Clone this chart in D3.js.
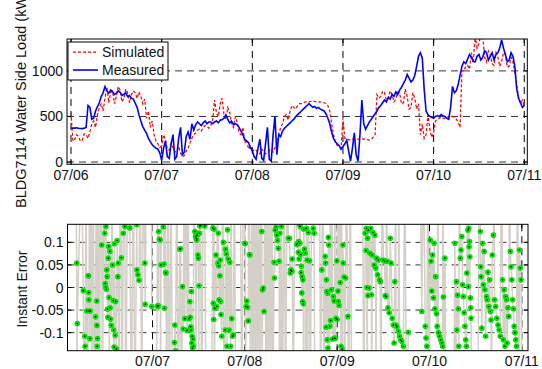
<!DOCTYPE html>
<html lang="en">
<head>
<meta charset="UTF-8">
<title>BLDG7114 water side load</title>
<script src="https://d3js.org/d3.v7.min.js"></script>
<style>
  body { margin: 0; background: #fff; }
  svg { display: block; font-family: "Liberation Sans", Arial, sans-serif; }
</style>
</head>
<body>
<div id="chart"></div>
<script>
const width = 542, height = 369;

// half-hourly samples (kW), starting 07/06 00:00
const sampleStepHours = 0.5;
const simulated = [
  540, 230, 250, 300, 280, 230, 240, 310, 300, 260, 330, 420, 450, 380, 520, 600, 640, 560, 700, 820, 650, 760, 780, 640,
  720, 830, 790, 660, 700, 800, 760, 650, 740, 780, 760, 700, 770, 720, 640, 690, 480, 560, 380, 450, 300, 230, 200, 160,
  180, 300, 250, 140, 130, 200, 160, 110, 120, 170, 100, 60, 70, 120, 150, 210, 260, 300, 320, 350, 360, 340, 380, 400,
  390, 370, 400, 460, 680, 540, 500, 640, 700, 520, 470, 600, 550, 420, 380, 500, 430, 320, 300, 380, 210, 250, 140, 180,
  110, 140, 130, 100, 90, 140, 120, 90, 100, 130, 140, 110, 160, 200, 300, 380, 420, 500, 520, 460, 560, 620, 600, 580,
  620, 640, 640, 650, 660, 660, 660, 665, 665, 665, 660, 660, 660, 655, 650, 645, 620, 560, 420, 300, 220, 180, 170, 150,
  480, 260, 250, 245, 240, 250, 250, 245, 250, 250, 250, 255, 250, 245, 240, 250, 270, 300, 740, 700, 720, 780, 760, 680,
  700, 780, 740, 660, 690, 770, 760, 640, 650, 800, 720, 580, 600, 760, 700, 580, 640, 300, 420, 260, 300, 520, 360, 270,
  320, 450, 470, 480, 490, 480, 480, 490, 500, 490, 500, 495, 470, 440, 380, 1000, 1000, 1050, 1060, 1020, 1200, 1100, 1380, 1250,
  1300, 1400, 1380, 1150, 1100, 1220, 1180, 1080, 1060, 1200, 1150, 1050, 1100, 1200, 1180, 1040, 1050, 1150, 1100, 980, 850, 700, 640, 680,
  610
];
const measured = [
  374, 372, 372, 376, 370, 368, 366, 372, 380, 620, 600, 470, 480, 560, 608, 650, 718, 760, 828, 780, 755, 790, 773, 740,
  755, 780, 766, 730, 744, 760, 718, 730, 700, 690, 645, 600, 517, 450, 389, 350, 315, 260, 224, 190, 169, 150, 143, 100,
  20, 150, 230, 60, 40, 200, 300, 30, 60, 260, 380, 80, 110, 280, 330, 250, 420, 350, 410, 440, 420, 400, 430, 450,
  420, 440, 440, 420, 440, 450, 430, 460, 465, 480, 515, 470, 430, 450, 410, 420, 410, 380, 340, 300, 250, 230, 215, 160,
  120, 60, 30, 150, 250, 40, 20, 200, 380, 30, 10, 300, 500, 80, 300, 280, 340, 370, 390, 410, 430, 450, 470, 500,
  520, 540, 560, 580, 600, 620, 640, 620, 600, 610, 590, 600, 580, 570, 560, 530, 480, 420, 330, 260, 220, 200, 180, 140,
  170, 200, 240, 120, 10, 150, 320, 80, 10, 300, 680, 420, 360, 400, 440, 470, 500, 530, 560, 600, 620, 650, 680, 660,
  710, 690, 740, 720, 770, 740, 790, 820, 860, 900, 960, 920, 880, 900, 950, 1050, 1160, 1200, 1140, 800, 560, 520, 500, 490,
  480, 500, 510, 500, 520, 505, 500, 480, 470, 600, 830, 760, 780, 850, 950, 1050, 1100, 1080, 1130, 1180, 1150, 1100, 1100, 1160,
  1180, 1120, 1150, 1220, 1200, 1120, 1160, 1200, 1120, 1180, 1200, 1250, 1340, 1250, 1180, 1100, 1120, 1200, 1160, 1050, 800, 700, 650, 600,
  620
];

const dayHours = [0, 24, 48, 72, 96, 120];
const dayLabels = ["07/06", "07/07", "07/08", "07/09", "07/10", "07/11"];
const loadTicks = [0, 500, 1000];
const errorTicks = [-0.1, -0.05, 0, 0.05, 0.1];
const errorTickLabels = ["-0.1", "-0.05", "0", "0.05", "0.1"];

// instant error: [hour, value]; null marks a gap in the record
const errorSeries = [
  [4.0,0.3],[4.3,0.054],[4.4,-0.3],[4.45,-0.08],[5.5,0.3],[6.0,-0.007],[6.2,-0.3],[6.4,-0.108],[6.5,-0.13],[6.7,0.3],
  [6.9,-0.052],[7.1,-0.3],[7.3,0.026],[7.35,0.026],[7.4,-0.011],[7.45,-0.027],[7.5,-0.052],[7.6,0.3],[7.7,-0.113],[7.8,-0.052],
  [8.0,0.3],[8.3,-0.3],[8.6,0.3],[8.9,-0.3],[9.2,-0.065],[9.4,0.3],[9.5,-0.03],[9.55,-0.084],[9.6,-0.13],[9.7,-0.113],
  [9.9,0.3],[10.2,-0.3],[10.5,0.3],[10.8,0.094],[11.0,-0.3],[11.3,0.3],[11.6,0.12],[11.7,0.009],[11.8,0.001],[11.9,0.135],
  [12.0,-0.004],[12.1,0.039],[12.2,0.024],[12.3,-0.048],[12.4,-0.066],[12.5,0.065],[12.6,0.091],[12.7,-0.022],[12.8,-0.3],[12.9,0.08],
  [13.0,-0.045],[13.1,-0.07],[13.3,-0.084],[13.45,0.3],[13.6,0.05],[13.8,-0.029],[13.9,-0.094],[14.0,-0.132],[14.1,0.097],[14.3,-0.106],
  [14.4,-0.031],[14.6,-0.136],[14.8,0.104],[15.0,0.024],[15.1,0.054],[15.3,-0.3],[15.6,0.3],[15.9,0.066],[16.1,-0.3],[16.4,0.12],
  [16.8,0.135],[17.1,-0.3],[17.5,0.3],[18.1,0.132],[18.5,-0.3],[19.0,0.3],[19.4,-0.3],[19.9,0.139],[19.95,0.039],[20.2,0.028],
  [20.5,0.016],[20.8,0.3],[21.2,-0.3],[21.6,0.3],[22.0,0.054],[22.1,-0.037],[22.4,0.3],[22.9,null],
  [23.7,0.3],[23.8,-0.042],[23.9,0.3],[24.4,null],
  [24.9,-0.3],[25.2,-0.041],[25.3,0.3],[25.4,-0.042],[25.5,-0.04],[25.6,0.124],[25.8,0.107],[26.0,0.105],[26.1,-0.3],[26.2,0.05],
  [26.5,0.3],[26.8,0.134],[27.0,0.052],[27.1,-0.046],[27.2,0.3],[27.4,0.033],[27.5,0.032],[27.7,-0.3],[28.0,0.3],[28.4,-0.3],
  [28.8,0.3],[29.2,-0.3],[29.7,-0.122],[29.8,-0.083],[30.0,-0.14],[30.3,0.3],[30.7,-0.3],
  [31.1,0.085],[31.3,0.086],[31.5,-0.3],[31.8,0.002],[32.0,-0.092],[32.2,0.3],[32.4,-0.069],[32.7,0.3],[33.0,-0.095],[33.2,0.3],
  [33.5,-0.069],[33.7,-0.031],[33.8,-0.066],[33.9,-0.087],[34.0,-0.094],[34.1,-0.009],[34.2,-0.123],[34.3,-0.108],[34.4,-0.134],[34.5,-0.114],
  [34.6,-0.13],[34.8,0.3],[35.0,0.124],[35.2,0.113],[35.3,-0.3],[35.4,0.109],[35.5,0.105],[35.6,0.116],[35.7,0.12],[35.8,0.072],
  [35.9,0.065],[36.0,-0.3],[36.1,0.004],[36.2,0.12],[36.3,0.136],[36.5,0.138],[36.8,-0.3],[37.2,0.3],[37.6,0.136],[37.9,-0.3],[38.2,null],
  [39.3,-0.3],[39.7,0.132],[39.8,-0.035],[39.9,-0.071],[40.0,0.129],[40.1,-0.3],[40.2,-0.046],[40.5,0.072],[40.7,-0.042],[40.9,0.3],
  [41.0,0.054],[41.1,0.12],[41.2,0.048],[41.3,-0.027],[41.5,0.026],[41.6,0.061],[41.7,-0.031],[41.8,-0.06],[42.0,-0.108],[42.2,0.3],
  [42.4,0.1],[42.6,-0.3],[42.9,-0.094],[43.0,0.085],[43.2,0.074],[43.4,-0.13],[43.5,0.128],[43.7,0.063],[43.9,-0.094],[44.1,0.056],
  [44.3,-0.13],[44.4,0.3],[44.6,-0.069],[44.8,-0.108],[45.0,-0.105],[45.3,0.3],[45.6,-0.3],[46.0,null],
  [46.8,0.3],[47.2,-0.3],[47.6,0.3],[48.0,0.098],[48.1,0.097],[48.2,-0.3],[48.3,-0.042],[48.5,-0.03],[48.7,-0.044],[48.9,-0.074],
  [49.0,0.3],[49.2,0.073],[49.3,0.072],[49.5,-0.3],[49.8,0.3],[50.1,-0.3],[50.4,0.3],[50.7,-0.3],[51.0,0.3],[51.3,-0.3],
  [51.6,0.3],[51.9,-0.3],[52.2,0.3],[52.4,0.124],[52.5,-0.3],[52.6,-0.005],[52.8,-0.001],[53.0,-0.053],[53.2,0.3],[53.5,-0.3],
  [53.8,0.3],[54.1,-0.3],[54.4,0.3],[54.7,-0.3],[55.0,0.3],[55.3,-0.3],[55.6,0.056],[55.7,0.021],[55.9,0.127],[56.1,0.134],
  [56.3,0.116],[56.5,0.104],[56.7,0.087],[56.9,0.058],[57.0,-0.3],[57.1,0.12],[57.3,-0.3],[57.5,0.135],[57.8,-0.3],[58.2,0.3],
  [58.6,-0.3],[59.0,0.3],[59.3,0.109],[59.6,0.109],[59.8,0.032],[59.9,0.038],[60.0,0.039],[60.2,0.036],[60.3,0.063],[60.6,-0.3],
  [61.0,0.3],[61.5,0.095],[61.7,0.098],[61.9,0.078],[62.0,0.102],[62.1,0.063],[62.2,0.139],[62.3,0.098],[62.4,0.135],[62.5,0.073],
  [62.6,0.033],[62.7,0.047],[62.8,-0.012],[62.9,0.024],[63.0,-0.031],[63.1,0.017],[63.2,-0.036],[63.25,-0.3],[63.3,0.129],[63.5,0.085],
  [63.7,0.076],[63.8,-0.3],[64.0,0.131],[64.2,0.061],[64.3,-0.3],[64.5,0.122],[64.8,0.059],[65.0,-0.3],[65.4,0.3],[65.8,0.131],
  [66.0,0.12],[66.2,-0.3],[66.6,null],
  [67.4,0.3],[67.7,-0.3],[68.0,0.039],[68.3,0.3],[68.6,-0.3],[68.9,0.069],[69.0,0.054],[69.1,-0.088],[69.2,0.017],[69.3,-0.009],
  [69.4,-0.116],[69.5,-0.013],[69.6,-0.134],[69.7,0.111],[69.8,0.094],[69.9,-0.3],[70.1,-0.086],[70.2,0.3],[70.3,-0.073],[70.5,-0.005],
  [70.6,0.3],[70.8,-0.114],[71.0,-0.02],[71.2,-0.03],[71.3,-0.112],[71.4,0.3],[71.5,-0.113],[71.7,-0.068],[71.9,0.059],[72.0,-0.071],
  [72.1,0.3],[72.2,-0.008],[72.3,-0.031],[72.5,-0.04],[72.6,0.3],[72.8,0.011],[73.0,-0.13],[73.1,0.3],[73.3,-0.136],[73.5,0.094],
  [73.6,0.054],[73.8,0.023],[73.9,-0.3],[74.2,0.021],[74.4,0.3],[74.8,-0.064],[75.0,-0.3],[75.4,0.3],[75.8,-0.3],[76.2,null],
  [78.6,0.3],[78.9,-0.3],[79.3,0.12],[79.5,0.082],[79.6,0.131],[79.7,0],[79.8,-0.3],[79.9,0.109],[80.0,-0.018],[80.1,0.127],
  [80.3,-0.001],[80.5,0.076],[80.7,0.131],[80.9,-0.016],[81.0,-0.3],[81.1,0.072],[81.3,0.122],[81.6,0.05],[81.8,0.116],[82.0,0.043],
  [82.1,-0.3],[82.2,0.065],[82.5,0.028],[82.7,0.061],[83.0,0.017],[83.2,0.013],[83.4,-0.3],[83.7,0.3],[84.0,0.061],[84.3,0.058],
  [84.5,-0.018],[84.7,-0.02],[84.8,0.3],[85.0,0.058],[85.2,-0.045],[85.5,-0.056],[85.8,0.109],[86.0,0.054],[86.3,-0.068],[86.6,-0.083],
  [86.8,-0.123],[87.0,0.013],[87.2,0.3],[87.3,-0.083],[87.5,-0.087],[87.9,-0.097],[88.0,0.3],[88.2,-0.108],[88.5,-0.116],[88.8,-0.119],
  [89.2,-0.13],[89.6,0.3],[90.0,-0.3],[90.5,-0.099],[90.8,null],
  [93.5,0.3],[94.0,-0.053],[94.4,0.3],[94.9,-0.086],[95.1,-0.112],[95.3,-0.13],[95.6,0.3],[95.9,-0.3],[96.2,0.105],[96.4,0.058],
  [96.6,-0.008],[96.8,0.072],[97.0,-0.023],[97.2,0.098],[97.4,-0.047],[97.6,0.024],[97.8,-0.058],[98.0,-0.086],[98.2,0.3],[98.3,-0.1],
  [98.6,-0.108],[98.9,-0.116],[99.2,-0.123],[99.4,-0.13],[99.5,0.3],[99.6,-0.021],[99.8,-0.3],[100.0,0.065],[100.3,-0.3],[100.7,null],
  [102.3,-0.3],[102.6,0.098],[102.8,-0.3],[103.0,0.013],[103.1,-0.094],[103.3,-0.017],[103.5,-0.047],[103.6,-0.13],[103.8,0.3],[104.0,0.065],
  [104.2,0.083],[104.4,0.113],[104.6,0.006],[104.8,-0.02],[105.0,-0.056],[105.2,-0.086],[105.4,-0.116],[105.6,-0.13],[105.7,0.032],[105.9,0.3],
  [106.0,0.127],[106.1,0.002],[106.2,0.131],[106.3,0.09],[106.4,0.102],[106.5,0.068],[106.6,-0.023],[106.7,-0.045],[106.8,-0.068],[107.0,-0.3],[107.4,null],
  [108.6,-0.3],[108.9,0.3],[109.2,0.124],[109.3,0.046],[109.4,0.024],[109.6,-0.09],[109.8,0.098],[110.0,0.006],[110.2,0.08],[110.4,-0.005],
  [110.6,-0.108],[110.8,-0.02],[111.0,-0.027],[111.2,0.034],[111.4,-0.042],[111.6,0.017],[111.8,-0.053],[112.0,-0.072],[112.1,-0.3],[112.3,0.072],
  [112.6,0.116],[112.8,0.3],[112.9,-0.027],[113.2,-0.042],[113.5,-0.068],[113.8,-0.083],[114.1,-0.094],[114.4,-0.108],[114.7,0.3],[115.0,0.017],
  [115.2,-0.116],[115.4,-0.005],[115.6,-0.13],[115.8,-0.02],[116.0,-0.027],[116.2,-0.123],[116.4,-0.045],[116.6,-0.064],[116.8,0.3],[117.0,0.08],
  [117.2,0.046],[117.4,0.017],[117.6,-0.027],[117.8,-0.047],[118.0,-0.086],[118.2,-0.1],[118.4,-0.116],[118.6,-0.13],[118.9,0.3],[119.2,-0.3],
  [119.4,0.083],[119.6,0.043],[119.8,0.017],[120.0,-0.3]
];

const svg = d3.select("#chart").append("svg")
    .attr("width", width)
    .attr("height", height);

svg.append("rect").attr("width", width).attr("height", height).attr("fill", "#fff");

// axes boxes, in page pixels
const boxTop = { x0: 67, x1: 527.3, y0: 39, y1: 164.3 };
const boxBot = { x0: 67.5, x1: 528, y0: 224.3, y1: 350.7 };

const xTop = d3.scaleLinear().domain([-1.06, 120.8]).range([boxTop.x0, boxTop.x1]);
const yTop = d3.scaleLinear().domain([-25, 1350]).range([boxTop.y1, boxTop.y0]);
const xBot = d3.scaleLinear().domain([1.9, 121.6]).range([boxBot.x0, boxBot.x1]);
const yBot = d3.scaleLinear().domain([-0.14, 0.14]).range([boxBot.y1, boxBot.y0]);

const defs = svg.append("defs");
function clipFor(id, box) {
    defs.append("clipPath").attr("id", id)
        .append("rect")
        .attr("x", box.x0).attr("y", box.y0)
        .attr("width", box.x1 - box.x0).attr("height", box.y1 - box.y0);
    return `url(#${id})`;
}

// grid + ticks + labels for one axes
function drawAxes(box, x, y, xTicks, xLabels, yTicks, yLabels) {
    const g = svg.append("g");
    const grid = g.append("g")
        .attr("stroke", "#000")
        .attr("stroke-width", 1)
        .attr("stroke-dasharray", "7,5");
    xTicks.forEach(t => {
        const px = x(t);
        if (px < box.x0 || px > box.x1) return;
        grid.append("line").attr("x1", px).attr("x2", px).attr("y1", box.y0).attr("y2", box.y1);
    });
    yTicks.forEach(t => {
        grid.append("line").attr("x1", box.x0).attr("x2", box.x1).attr("y1", y(t)).attr("y2", y(t))
            .attr("stroke", "#333");
    });

    const ticks = g.append("g").attr("stroke", "#000").attr("stroke-width", 1);
    const tl = 4;
    xTicks.forEach(t => {
        const px = x(t);
        if (px < box.x0 || px > box.x1) return;
        ticks.append("line").attr("x1", px).attr("x2", px).attr("y1", box.y1).attr("y2", box.y1 - tl);
        ticks.append("line").attr("x1", px).attr("x2", px).attr("y1", box.y0).attr("y2", box.y0 + tl);
    });
    yTicks.forEach(t => {
        ticks.append("line").attr("x1", box.x0).attr("x2", box.x0 + tl).attr("y1", y(t)).attr("y2", y(t));
        ticks.append("line").attr("x1", box.x1).attr("x2", box.x1 - tl).attr("y1", y(t)).attr("y2", y(t));
    });

    const lab = g.append("g").attr("font-size", 14).attr("fill", "#111");
    xTicks.forEach((t, i) => {
        const px = x(t);
        if (px < box.x0 - 1 || px > box.x1 + 1) return;
        lab.append("text").attr("x", px).attr("y", box.y1 + 15.7)
            .attr("text-anchor", "middle").text(xLabels[i]);
    });
    yTicks.forEach((t, i) => {
        lab.append("text").attr("x", box.x0 - 4).attr("y", y(t)).attr("dy", "0.36em")
            .attr("text-anchor", "end").text(yLabels[i]);
    });
    return g;
}

function drawBox(box) {
    svg.append("rect")
        .attr("x", box.x0).attr("y", box.y0)
        .attr("width", box.x1 - box.x0).attr("height", box.y1 - box.y0)
        .attr("fill", "none").attr("stroke", "#000").attr("stroke-width", 1);
}

// ---- top: load ----
drawAxes(boxTop, xTop, yTop, dayHours, dayLabels, loadTicks, loadTicks.map(String));

const topPlot = svg.append("g").attr("clip-path", clipFor("clip-top", boxTop));
const loadLine = d3.line().x((d, i) => xTop(i * sampleStepHours)).y(d => yTop(d));

topPlot.append("path").datum(simulated)
    .attr("d", loadLine)
    .attr("fill", "none")
    .attr("stroke", "#ff0000")
    .attr("stroke-width", 1.25)
    .attr("stroke-dasharray", "3,2");

topPlot.append("path").datum(measured)
    .attr("d", loadLine)
    .attr("fill", "none")
    .attr("stroke", "#0000ff")
    .attr("stroke-width", 1.6);

drawBox(boxTop);

// legend
const legend = svg.append("g");
legend.append("rect")
    .attr("x", 68).attr("y", 42).attr("width", 100).attr("height", 38)
    .attr("fill", "#fff").attr("stroke", "#000").attr("stroke-width", 1);
[["Simulated", "#ff0000", "3,2", 1.25], ["Measured", "#0000ff", null, 1.6]].forEach((d, i) => {
    const yy = 52 + i * 18;
    legend.append("line")
        .attr("x1", 73).attr("x2", 98).attr("y1", yy).attr("y2", yy)
        .attr("stroke", d[1]).attr("stroke-width", d[3])
        .attr("stroke-dasharray", d[2]);
    legend.append("text")
        .attr("x", 102).attr("y", yy).attr("dy", "0.36em")
        .attr("font-size", 14).attr("fill", "#111")
        .text(d[0]);
});

// the reference clips this label at the top edge of the page
svg.append("text")
    .attr("transform", "translate(25.5, 99.5) rotate(-90)")
    .attr("text-anchor", "middle")
    .attr("font-size", 14.5).attr("fill", "#111")
    .text("BLDG7114 Water Side Load (kW)");

// ---- bottom: instant error ----
drawAxes(boxBot, xBot, yBot, dayHours, dayLabels, errorTicks, errorTickLabels);

const botPlot = svg.append("g").attr("clip-path", clipFor("clip-bot", boxBot));

botPlot.append("path").datum(errorSeries)
    .attr("d", d3.line().defined(d => d[1] != null).x(d => xBot(d[0])).y(d => yBot(d[1])))
    .attr("fill", "none")
    .attr("stroke", "#d4d0c8")
    .attr("stroke-width", 1.5);

const pts = errorSeries.filter(d => d[1] != null && Math.abs(d[1]) < 0.16);
botPlot.append("g").selectAll("circle").data(pts).join("circle")
    .attr("cx", d => xBot(d[0])).attr("cy", d => yBot(d[1]))
    .attr("r", 2.8)
    .attr("fill", "#00e400");
botPlot.append("g").selectAll("circle").data(pts).join("circle")
    .attr("cx", d => xBot(d[0])).attr("cy", d => yBot(d[1]))
    .attr("r", 0.8)
    .attr("fill", "#000");

drawBox(boxBot);

svg.append("text")
    .attr("transform", "translate(26.5, 289) rotate(-90)")
    .attr("text-anchor", "middle")
    .attr("font-size", 14).attr("fill", "#111")
    .text("Instant Error");
</script>
</body>
</html>
